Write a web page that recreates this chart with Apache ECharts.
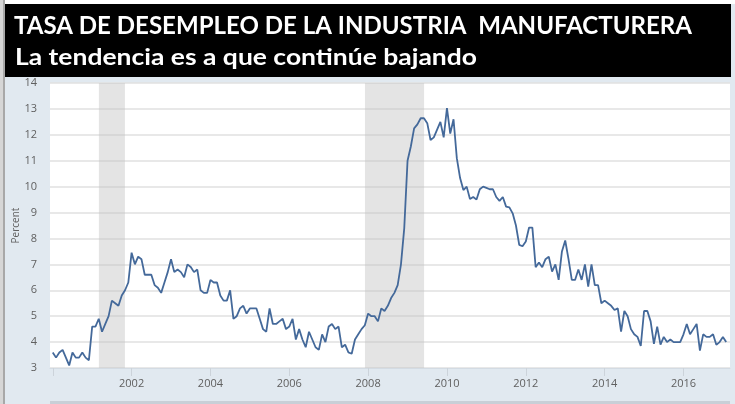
<!DOCTYPE html>
<html>
<head>
<meta charset="utf-8">
<script src="https://cdn.jsdelivr.net/npm/echarts@6/dist/echarts.min.js"></script>
<style>
html,body{margin:0;padding:0;background:#fff;}
#c{width:735px;height:404px;}
</style>
</head>
<body>
<div id="c"></div>
<script>
// ---- data (monthly, Jan 2000 – Feb 2017) ----
const titleLine1 = 'TASA DE DESEMPLEO DE LA INDUSTRIA  MANUFACTURERA';
const titleLine2 = 'La tendencia es a que continúe bajando';
const yAxisName = 'Percent';
const startYear = 2000;
const monthlyRate = [
  3.6, 3.4, 3.6, 3.7, 3.4, 3.1, 3.6, 3.4, 3.4, 3.6, 3.4, 3.3,          // 2000
  4.6, 4.6, 4.9, 4.4, 4.7, 5.0, 5.6, 5.5, 5.4, 5.8, 6.0, 6.3,          // 2001
  7.45, 7.0, 7.3, 7.2, 6.6, 6.6, 6.6, 6.2, 6.1, 5.9, 6.3, 6.7,         // 2002
  7.2, 6.7, 6.8, 6.7, 6.5, 7.0, 6.9, 6.7, 6.8, 6.0, 5.9, 5.9,          // 2003
  6.4, 6.3, 6.3, 5.8, 5.6, 5.6, 6.0, 4.9, 5.0, 5.3, 5.4, 5.1,          // 2004
  5.3, 5.3, 5.3, 4.9, 4.5, 4.4, 5.3, 4.7, 4.7, 4.8, 4.9, 4.5,          // 2005
  4.6, 4.9, 4.1, 4.5, 4.1, 3.8, 4.4, 4.1, 3.8, 3.7, 4.3, 4.0,          // 2006
  4.6, 4.7, 4.5, 4.6, 3.8, 3.9, 3.6, 3.55, 4.1, 4.3, 4.5, 4.65,        // 2007
  5.1, 5.0, 5.0, 4.8, 5.3, 5.2, 5.4, 5.7, 5.9, 6.2, 7.0, 8.4,          // 2008
  11.0, 11.55, 12.25, 12.4, 12.64, 12.64, 12.45, 11.8, 11.9, 12.2, 12.5, 11.9, // 2009
  13.03, 12.05, 12.6, 11.1, 10.33, 9.87, 10.0, 9.52, 9.6, 9.5, 9.9, 10.0,    // 2010
  9.95, 9.9, 9.9, 9.6, 9.45, 9.6, 9.23, 9.2, 8.97, 8.5, 7.75, 7.7,     // 2011
  7.88, 8.42, 8.42, 6.89, 7.07, 6.89, 7.2, 7.3, 6.72, 7.0, 6.4, 7.5,   // 2012
  7.92, 7.2, 6.4, 6.4, 6.8, 6.4, 7.0, 6.14, 7.0, 6.2, 6.2, 5.5,        // 2013
  5.6, 5.5, 5.4, 5.24, 5.3, 4.4, 5.2, 5.0, 4.5, 4.3, 4.2, 3.85,        // 2014
  5.2, 5.2, 4.8, 3.93, 4.6, 3.9, 4.2, 4.0, 4.1, 4.0, 4.0, 4.0,         // 2015
  4.3, 4.7, 4.3, 4.5, 4.7, 3.67, 4.3, 4.2, 4.2, 4.3, 3.9, 4.0,         // 2016
  4.2, 4.0                                                              // 2017
];
const recessions = [[2001.17, 2001.83], [2007.92, 2009.42]];
const xTickYears = [2000, 2002, 2004, 2006, 2008, 2010, 2012, 2014, 2016];
const xLabelYears = [2002, 2004, 2006, 2008, 2010, 2012, 2014, 2016];
const yTicks = [3, 4, 5, 6, 7, 8, 9, 10, 11, 12, 13, 14];

// ---- build ----
const seriesData = monthlyRate.map((v, i) => [startYear + i / 12, v]);

function measure(text, font) {
  const ctx = document.createElement('canvas').getContext('2d');
  ctx.font = font;
  return ctx.measureText(text).width;
}
const t1Font = 'bold 24.5px Lato';
const t2Font = 'bold 23px Lato';
const t1Scale = 678 / measure(titleLine1, t1Font);
const t2Scale = 462 / measure(titleLine2, t2Font);

const chart = echarts.init(document.getElementById('c'), null, {renderer: 'canvas'});
chart.setOption({
  animation: false,
  backgroundColor: '#e1e9f0',
  graphic: [
    {type: 'rect', shape: {x: 0, y: 0, width: 735, height: 4}, style: {fill: '#ffffff'}, silent: true},
    {type: 'rect', shape: {x: 0, y: 0, width: 3, height: 404}, style: {fill: '#d6d6d6'}, silent: true},
    {type: 'rect', shape: {x: 3, y: 0, width: 2, height: 404}, style: {fill: '#a8a8a8'}, silent: true},
    {type: 'rect', shape: {x: 5, y: 4, width: 726, height: 73}, style: {fill: '#000000'}, silent: true},
    {type: 'rect', shape: {x: 50, y: 401, width: 680, height: 3}, style: {fill: '#c8cfd7'}, silent: true},
    {type: 'text', x: 14, y: 26, scaleX: t1Scale, silent: true,
      style: {text: titleLine1, fill: '#ffffff', fontFamily: 'Lato', fontWeight: 'bold', fontSize: 24.5, verticalAlign: 'middle', align: 'left'}},
    {type: 'text', x: 15, y: 58, scaleX: t2Scale, silent: true,
      style: {text: titleLine2, fill: '#ffffff', fontFamily: 'Lato', fontWeight: 'bold', fontSize: 23, verticalAlign: 'middle', align: 'left'}}
  ],
  grid: {left: 50, right: 5, top: 83, bottom: 36, show: true, backgroundColor: '#ffffff', borderWidth: 0,
    containLabel: false, outerBoundsMode: 'none'},
  xAxis: {
    type: 'value',
    min: 1999.93,
    max: 2017.18,
    splitLine: {show: false},
    axisLine: {show: true, lineStyle: {color: '#d3dbe3', width: 1}},
    axisTick: {show: true, customValues: xTickYears, length: 8, lineStyle: {color: '#ccd3da'}},
    axisLabel: {customValues: xLabelYears, margin: 10, color: '#606060', fontSize: 11, fontFamily: 'Open Sans',
      formatter: v => String(Math.round(v))}
  },
  yAxis: {
    type: 'value',
    min: 3,
    max: 14,
    interval: 1,
    name: yAxisName,
    nameLocation: 'middle',
    nameRotate: 90,
    nameGap: 29,
    nameMoveOverlap: false,
    nameTextStyle: {color: '#606060', fontSize: 10, fontFamily: 'Open Sans'},
    axisLine: {show: false},
    axisTick: {show: false},
    axisLabel: {margin: 13, color: '#606060', fontSize: 11, fontFamily: 'Open Sans',
      customValues: yTicks},
    splitLine: {show: true, lineStyle: {color: '#e0e0e0', width: 1.5}}
  },
  series: [{
    type: 'line',
    data: seriesData,
    showSymbol: false,
    lineStyle: {color: '#44699a', width: 1.8},
    markArea: {
      silent: true,
      itemStyle: {color: 'rgba(190,190,190,0.42)'},
      data: recessions.map(r => [{xAxis: r[0]}, {xAxis: r[1]}])
    }
  }]
});
</script>
</body>
</html>
